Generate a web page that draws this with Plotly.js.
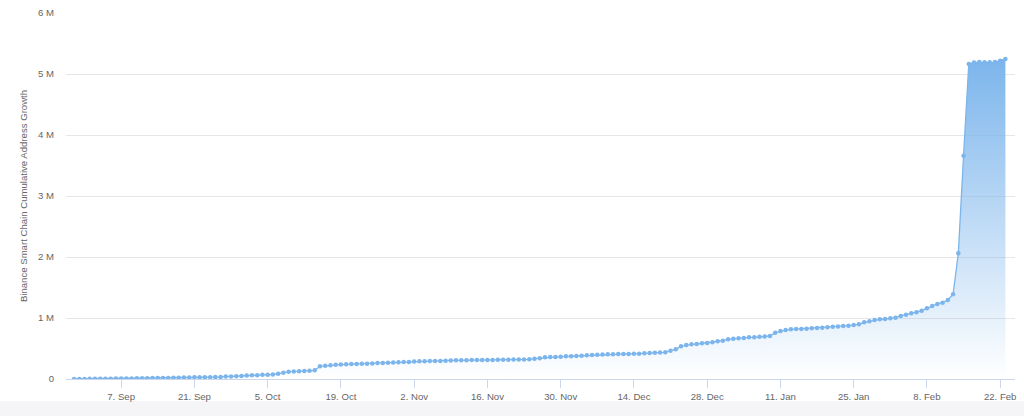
<!DOCTYPE html>
<html>
<head>
<meta charset="utf-8">
<script src="https://cdn.plot.ly/plotly-3.0.1.min.js"></script>
<style>
  html, body { margin: 0; padding: 0; background: #ffffff; }
  #chart { width: 1024px; height: 416px; }
</style>
</head>
<body>
<div id="chart"></div>
<script>
// Daily series starting on this date (one value per day)
const startDate = '2020-08-29';

// Cumulative addresses, in millions
const addressesM = [
  0.001,0.002,0.002,0.003,0.004,0.005,0.005,0.006,0.007,0.008,
  0.009,0.010,0.011,0.012,0.013,0.016,0.017,0.017,0.018,0.019,
  0.022,0.025,0.026,0.027,0.027,0.028,0.030,0.031,0.033,0.040,
  0.043,0.045,0.048,0.057,0.060,0.062,0.068,0.071,0.074,0.085,
  0.104,0.120,0.121,0.126,0.131,0.136,0.142,0.208,0.218,0.224,
  0.233,0.236,0.240,0.245,0.247,0.250,0.252,0.254,0.261,0.263,
  0.267,0.269,0.273,0.278,0.280,0.288,0.290,0.291,0.294,0.295,
  0.296,0.300,0.305,0.306,0.307,0.307,0.310,0.311,0.311,0.312,
  0.313,0.316,0.317,0.317,0.318,0.318,0.319,0.323,0.333,0.340,
  0.355,0.360,0.362,0.366,0.371,0.373,0.377,0.382,0.388,0.393,
  0.398,0.400,0.404,0.405,0.409,0.410,0.411,0.412,0.415,0.421,
  0.426,0.431,0.433,0.437,0.464,0.486,0.535,0.557,0.568,0.574,
  0.585,0.590,0.601,0.618,0.628,0.650,0.661,0.667,0.672,0.683,
  0.684,0.694,0.695,0.705,0.760,0.787,0.803,0.814,0.819,0.820,
  0.822,0.831,0.836,0.842,0.847,0.857,0.859,0.869,0.874,0.885,
  0.896,0.929,0.945,0.967,0.978,0.984,0.995,1.005,1.033,1.054,
  1.077,1.093,1.120,1.159,1.197,1.230,1.251,1.295,1.389,2.060,
  3.660,5.164,5.190,5.196,5.192,5.191,5.196,5.218,5.246
];

// X tick dates and labels
const xTickDates = ['2020-09-07','2020-09-21','2020-10-05','2020-10-19','2020-11-02',
  '2020-11-16','2020-11-30','2020-12-14','2020-12-28','2021-01-11','2021-01-25',
  '2021-02-08','2021-02-22'];
const xTickLabels = ['7. Sep','21. Sep','5. Oct','19. Oct','2. Nov','16. Nov','30. Nov',
  '14. Dec','28. Dec','11. Jan','25. Jan','8. Feb','22. Feb'];

// Y ticks (millions) and labels
const yTickVals = [0,1,2,3,4,5,6];
const yTickLabels = ['0','1 M','2 M','3 M','4 M','5 M','6 M'];

const yTitle = 'Binance Smart Chain Cumulative Address Growth';

// build daily dates
const dates = [];
(function(){
  const d0 = new Date(startDate + 'T00:00:00Z');
  for (let i = 0; i < addressesM.length; i++) {
    const d = new Date(d0.getTime() + i * 86400000);
    dates.push(d.toISOString().slice(0,10));
  }
})();

const blue = '#7cb5ec';
const font = 'Liberation Sans, Arial, sans-serif';

const trace = {
  type: 'scatter',
  mode: 'lines+markers',
  x: dates,
  y: addressesM,
  line: { color: blue, width: 1.3 },
  marker: { color: blue, size: 4.5 },
  fill: 'tozeroy',
  fillgradient: {
    type: 'vertical',
    start: 0,
    stop: Math.max(...addressesM),
    colorscale: [[0, 'rgba(124,181,236,0)'], [1, 'rgba(124,181,236,1)']]
  },
  hoverinfo: 'x+y',
  showlegend: false
};

const layout = {
  width: 1024,
  height: 416,
  margin: { l: 66, r: 9, t: 13, b: 37, pad: 0 },
  paper_bgcolor: '#ffffff',
  plot_bgcolor: '#ffffff',
  font: { family: font, size: 9.6, color: '#666666' },
  xaxis: {
    type: 'date',
    range: ['2020-08-27 11:00', '2021-02-24 20:00'],
    showgrid: false,
    zeroline: false,
    showline: true,
    linecolor: '#ccd6eb',
    linewidth: 1,
    ticks: 'outside',
    ticklen: 8,
    tickwidth: 1,
    tickcolor: '#ccd6eb',
    tickmode: 'array',
    tickvals: xTickDates,
    ticktext: xTickLabels,
    tickfont: { family: font, size: 9.6, color: '#666666' }
  },
  yaxis: {
    range: [0, 6],
    showgrid: true,
    gridcolor: '#e6e6e6',
    gridwidth: 1,
    zeroline: false,
    showline: false,
    ticks: '',
    tickmode: 'array',
    tickvals: yTickVals,
    ticktext: yTickLabels,
    ticklabelstandoff: 11,
    tickfont: { family: font, size: 9.6, color: '#666666' },
    title: { text: yTitle, font: { family: font, size: 9.6, color: '#666666' }, standoff: 8 }
  },
  shapes: [{
    type: 'rect', xref: 'paper', yref: 'paper',
    x0: -66/949, x1: 1 + 9/949,
    y0: (379-416)/366, y1: (379-401)/366,
    fillcolor: '#f5f5f7', line: { width: 0 }, layer: 'below'
  }]
};

Plotly.newPlot('chart', [trace], layout, { displayModeBar: false, staticPlot: true });
</script>
</body>
</html>
